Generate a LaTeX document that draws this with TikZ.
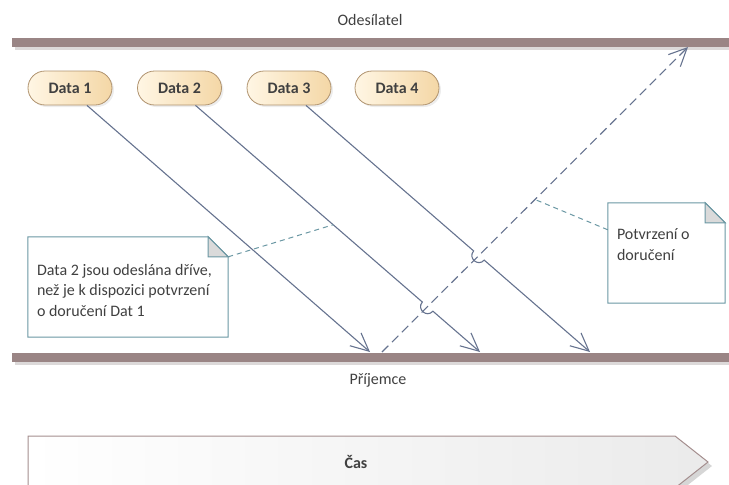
\documentclass[tikz,border=0pt]{standalone}
\usepackage{fontspec}
\setmainfont{Carlito}
\usetikzlibrary{arrows.meta,calc,shadows}

\definecolor{lifeline}{HTML}{9A8585}
\definecolor{lifeshadow}{HTML}{DCD9D9}
\definecolor{msg}{HTML}{66738F}
\definecolor{notecol}{HTML}{6A97A3}
\definecolor{foldcol}{HTML}{DADADA}
\definecolor{ovalA}{HTML}{FFF6E4}
\definecolor{ovalB}{HTML}{F4D7A6}
\definecolor{ovalline}{HTML}{B0936F}
\definecolor{txt}{HTML}{404040}
\definecolor{timeline}{HTML}{A48E8E}

\tikzset{
  lbl/.style={text=txt, inner sep=0pt},
  datanode/.style={draw=ovalline, line width=0.8pt, rounded corners=17pt,
    minimum width=84pt, minimum height=34pt, inner sep=0pt,
    left color=ovalA, right color=ovalB, text=txt,
    font=\fontsize{16}{20}\selectfont\bfseries,
    drop shadow={shadow xshift=2pt, shadow yshift=-2pt, fill=black!14}},
  msgline/.style={draw=msg, line width=1.1pt,
    -{Straight Barb[length=18pt,width=17pt,line width=1.1pt]}},
  ackline/.style={msgline, dash pattern=on 9pt off 5pt},
  noteline/.style={draw=notecol, line width=1pt, fill=white},
  foldstyle/.style={draw=notecol, line width=1pt, fill=foldcol},
  notelink/.style={draw=notecol, line width=1pt, dash pattern=on 5pt off 4pt},
  notebox/.style={minimum height=100pt, inner sep=0pt},
  notetext/.style={text=txt, align=left, inner sep=0pt, anchor=north west},
}

\begin{document}
\begin{tikzpicture}[x=1pt,y=-1pt, font=\fontsize{16}{20.5}\selectfont]
\useasboundingbox (0,0) rectangle (729,485);

% lifelines
\draw[lifeshadow, line width=9pt] (15,45) -- (729,45);
\draw[lifeline, line width=9pt] (12,42) -- (729,42);
\draw[lifeshadow, line width=9pt] (15,360) -- (729,360);
\draw[lifeline, line width=9pt] (12,357) -- (729,357);
\node[lbl] (snd) at (370,20) {Odesílatel};
\node[lbl] (rcv) at (378,380) {Příjemce};

% data packets
\node[datanode] (d1) at (70,88) {Data 1};
\node[datanode] (d2) at (179.5,88) {Data 2};
\node[datanode] (d3) at (289,88) {Data 3};
\node[datanode] (d4) at (397,88) {Data 4};

% message end points on the lifelines
\coordinate (s1) at ([xshift=17pt]d1.south);
\coordinate (s2) at ([xshift=16pt]d2.south);
\coordinate (s3) at ([xshift=17pt]d3.south);
\coordinate (e1) at (370,352);
\coordinate (e2) at (480,352);
\coordinate (e3) at (590,352);
\coordinate (a1) at (382,352);
\coordinate (a2) at (688,47);

% crossings with the acknowledgement
\coordinate (x2) at (intersection of s2--e2 and a1--a2);
\coordinate (x3) at (intersection of s3--e3 and a1--a2);
\coordinate (h2a) at ($(x2)!7pt!(s2)$);
\coordinate (h2b) at ($(x2)!7pt!(e2)$);
\coordinate (h3a) at ($(x3)!7pt!(s3)$);
\coordinate (h3b) at ($(x3)!7pt!(e3)$);

% messages
\draw[msgline] (s1) -- (e1);
\draw[msgline] (s2) -- (h2a)
  .. controls ($(h2a)!9.3pt!-90:(x2)$) and ($(h2b)!9.3pt!90:(x2)$) .. (h2b) -- (e2);
\draw[msgline] (s3) -- (h3a)
  .. controls ($(h3a)!9.3pt!-90:(x3)$) and ($(h3b)!9.3pt!90:(x3)$) .. (h3b) -- (e3);
\draw[ackline] (a1) -- (a2);

% note on Data 2
\node[notebox, minimum width=200pt] (n1) at (128,287) {};
\filldraw[noteline] (n1.north west) -- ([xshift=-20pt]n1.north east)
  -- ([yshift=-20pt]n1.north east) -- (n1.south east) -- (n1.south west) -- cycle;
\filldraw[foldstyle] ([xshift=-20pt]n1.north east) -- ([xshift=-20pt,yshift=-20pt]n1.north east)
  -- ([yshift=-20pt]n1.north east) -- cycle;
\node[notetext] (t1) at ([xshift=9pt,yshift=-27pt]n1.north west)
  {Data 2 jsou odeslána dříve,\\než je k dispozici potvrzení\\o doručení Dat 1};
\coordinate (c1) at ($(s2)!0.484!(e2)$);
\draw[notelink] ([yshift=-20pt]n1.north east) -- (c1);

% note on the acknowledgement
\node[notebox, minimum width=117pt] (n2) at (666.5,253) {};
\filldraw[noteline] (n2.north west) -- ([xshift=-20pt]n2.north east)
  -- ([yshift=-20pt]n2.north east) -- (n2.south east) -- (n2.south west) -- cycle;
\filldraw[foldstyle] ([xshift=-20pt]n2.north east) -- ([xshift=-20pt,yshift=-20pt]n2.north east)
  -- ([yshift=-20pt]n2.north east) -- cycle;
\node[notetext] (t2) at ([xshift=9pt,yshift=-26pt]n2.north west)
  {Potvrzení o\\doručení};
\coordinate (c2) at ($(a1)!0.5!(a2)$);
\draw[notelink] ([yshift=-27pt]n2.north west) -- (c2);

% time arrow
\fill[black!16] (32,440) -- (679,440) -- (712,466) -- (679,492) -- (32,492) -- cycle;
\draw[timeline, line width=1pt, left color=white, right color=black!8]
  (28,436) -- (675,436) -- (708,462) -- (675,488) -- (28,488) -- cycle;
\node[lbl, font=\fontsize{16}{20}\selectfont\bfseries] (cas) at (356,462) {Čas};
\end{tikzpicture}
\end{document}
